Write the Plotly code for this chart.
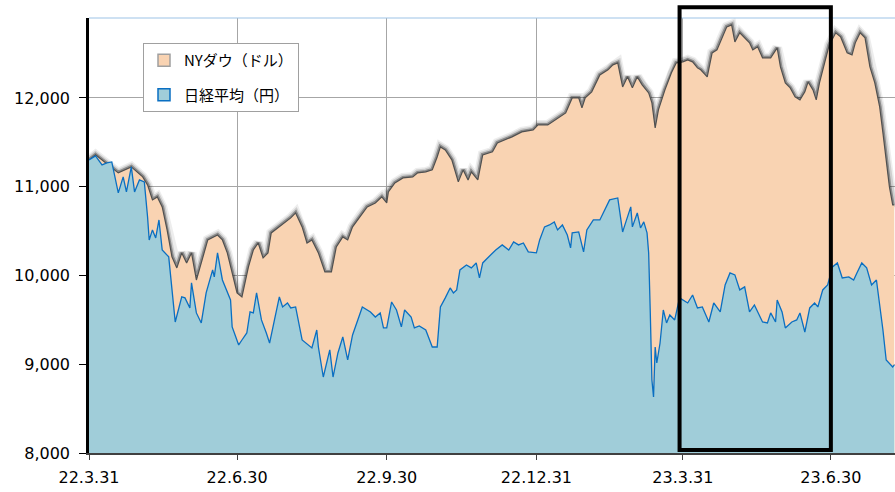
import pandas as pd
import plotly.graph_objects as go

start = pd.Timestamp("2022-03-31")

# Day offsets from 2022-03-31 and values
nikkei_days = [0, 4, 8, 11, 14, 18, 21, 23, 26, 28, 31, 34, 36, 37, 39, 41, 43, 45, 49, 51,
               53, 57, 59, 62, 63, 66, 69, 72, 76, 77, 79, 82, 87, 88, 92, 94, 97, 99, 101, 103,
               106, 109, 111, 114, 117, 119, 122, 124, 127, 131, 135, 137, 140, 141, 144, 148, 150, 153, 156, 159,
               162, 165, 168, 173, 176, 179, 181, 183, 186, 189, 192, 194, 198, 200, 203, 207, 211, 214, 216, 219,
               222, 224, 226, 228, 232, 235, 238, 240, 242, 245, 250, 254, 258, 261, 264, 267, 270, 275, 277, 280,
               283, 286, 288, 291, 294, 296, 297, 301, 304, 306, 310, 314, 317, 320, 325, 328, 329, 333, 334, 337,
               339, 341, 343, 344, 345, 346, 347, 348, 349, 351, 353, 355, 357, 360, 363, 368, 371, 374, 377, 381,
               384, 388, 391, 394, 397, 400, 403, 406, 409, 414, 417, 419, 422, 423, 426, 428, 432, 435, 437, 440,
               443, 446, 448, 451, 454, 457, 460, 463, 467, 470, 472, 475, 478, 481, 484, 486, 488, 490, 494, 495]
nikkei_vals = [11302, 11347, 11245, 11268, 11279, 10930, 11110, 10941, 11223, 10941, 11076, 11054, 10659, 10400, 10513, 10423, 10625, 10287, 10209, 9803,
               9476, 9758, 9747, 9634, 9916, 9578, 9465, 9803, 10062, 9983, 10254, 9949, 9724, 9420, 9217, 9273, 9352, 9589, 9578, 9803,
               9499, 9352, 9239, 9499, 9758, 9645, 9690, 9634, 9645, 9273, 9217, 9183, 9386, 9194, 8856, 9161, 8856, 9127, 9307, 9048,
               9330, 9499, 9645, 9589, 9532, 9578, 9409, 9409, 9701, 9611, 9420, 9611, 9532, 9409, 9431, 9386, 9194, 9194, 9645, 9747,
               9859, 9803, 9837, 10062, 10118, 10085, 10141, 9972, 10141, 10197, 10287, 10344, 10287, 10378, 10344, 10366, 10265, 10254, 10400, 10547,
               10569, 10603, 10513, 10569, 10456, 10310, 10479, 10490, 10265, 10513, 10625, 10625, 10738, 10851, 10873, 10490, 10547, 10772, 10547, 10704,
               10535, 10603, 10479, 10254, 9578, 8823, 8631, 9194, 9014, 9239, 9611, 9465, 9555, 9499, 9747, 9690, 9780, 9634, 9645, 9476,
               9690, 9589, 9893, 10028, 10006, 9837, 9871, 9589, 9668, 9476, 9465, 9578, 9476, 9724, 9589, 9409, 9476, 9499, 9578, 9363,
               9634, 9690, 9645, 9837, 9893, 10096, 10141, 9972, 9983, 9949, 10028, 10141, 10085, 9893, 9949, 9690, 9386, 9048, 8969, 8992]

dow_days = [0, 4, 18, 26, 33, 36, 39, 42, 45, 48, 51, 54, 57, 60, 63, 66, 69, 73, 79, 82,
            85, 88, 91, 94, 98, 101, 104, 107, 110, 112, 116, 119, 124, 127, 131, 134, 137, 141, 145, 149,
            152, 156, 159, 162, 168, 171, 176, 180, 183, 184, 188, 193, 199, 202, 207, 211, 214, 216, 219, 223,
            227, 230, 233, 235, 239, 242, 248, 251, 260, 266, 273, 276, 282, 288, 293, 297, 301, 303, 305, 309,
            314, 319, 322, 325, 328, 331, 334, 337, 340, 344, 346, 348, 350, 354, 358, 361, 365, 368, 371, 374,
            376, 380, 383, 386, 389, 392, 395, 397, 400, 403, 406, 408, 411, 414, 419, 423, 425, 428, 431, 434,
            437, 440, 442, 445, 447, 449, 452, 455, 459, 462, 466, 469, 471, 474, 477, 480, 483, 486, 488, 490,
            492, 494, 495]
dow_vals = [11300, 11358, 11155, 11223, 11110, 11020, 10851, 10885, 10772, 10513, 10209, 10085, 10254, 10141, 10254, 9949, 10141, 10400, 10456, 10400,
            10254, 10028, 9803, 9758, 10096, 10287, 10366, 10197, 10254, 10479, 10535, 10569, 10648, 10704, 10547, 10366, 10400, 10254, 10040, 10040,
            10321, 10434, 10400, 10547, 10704, 10772, 10817, 10885, 10817, 10941, 11042, 11099, 11110, 11155, 11166, 11189, 11335, 11448, 11414, 11302,
            11054, 11189, 11076, 11166, 11076, 11358, 11392, 11493, 11561, 11617, 11640, 11696, 11696, 11775, 11831, 12000, 12000, 11887, 12000, 12068,
            12259, 12316, 12372, 12395, 12124, 12237, 12113, 12237, 12147, 12056, 11944, 11662, 11865, 12090, 12282, 12395, 12406, 12428, 12406, 12338,
            12316, 12237, 12507, 12541, 12676, 12800, 12823, 12631, 12733, 12676, 12620, 12541, 12575, 12451, 12451, 12564, 12349, 12169, 12113, 12011,
            11978, 12068, 12180, 12090, 11978, 12169, 12395, 12597, 12733, 12687, 12507, 12485, 12620, 12733, 12676, 12349, 12169, 11899, 11606, 11302,
            10997, 10794, 10794]

tick_dates = ["2022-03-31", "2022-06-30", "2022-09-30", "2022-12-31", "2023-03-31", "2023-06-30"]
tick_labels = ["22.3.31", "22.6.30", "22.9.30", "22.12.31", "23.3.31", "23.6.30"]
y_ticks = [8000, 9000, 10000, 11000, 12000]
box_start, box_end = "2023-03-29", "2023-06-30"
x_end = "2023-08-08 10:00"
y_range = [8000, 12900]
series_names = ["NYダウ（ドル）", "日経平均（円）"]

nikkei_dates = start + pd.to_timedelta(nikkei_days, unit="D")
dow_dates = start + pd.to_timedelta(dow_days, unit="D")

PEACH, BLUE_FILL, BLUE_LINE = "#F9D3B2", "#A0CDD9", "#0A6FC2"

fig = go.Figure()

# soft dark glow around the NY Dow edge
for w, c in [(10, "rgba(0,0,0,0.07)"), (7, "rgba(0,0,0,0.13)"), (4, "rgba(0,0,0,0.32)")]:
    fig.add_trace(go.Scatter(x=dow_dates, y=dow_vals, mode="lines",
                             line=dict(color=c, width=w), showlegend=False, hoverinfo="skip"))

fig.add_trace(go.Scatter(x=dow_dates, y=dow_vals, mode="lines", fill="tozeroy",
                         fillcolor=PEACH, line=dict(color="#505050", width=1.2),
                         name=series_names[0], showlegend=False))
fig.add_trace(go.Scatter(x=nikkei_dates, y=nikkei_vals, mode="lines", fill="tozeroy",
                         fillcolor=BLUE_FILL, line=dict(color=BLUE_LINE, width=1.3),
                         name=series_names[1], showlegend=False))

# legend entries with square swatches
fig.add_trace(go.Scatter(x=[None], y=[None], mode="markers", name=series_names[0], legendgroup="a",
                         marker=dict(symbol="square", size=12, color=PEACH,
                                     line=dict(color="#A0A0A0", width=1.5))))
fig.add_trace(go.Scatter(x=[None], y=[None], mode="markers", name=series_names[1], legendgroup="b",
                         marker=dict(symbol="square", size=12, color=BLUE_FILL,
                                     line=dict(color=BLUE_LINE, width=1.5))))

fig.add_shape(type="line", xref="paper", yref="paper", x0=0, x1=1, y0=1, y1=1,
              line=dict(color="#9DC3E6", width=1))
fig.add_shape(type="rect", xref="x", yref="paper", x0=box_start, x1=box_end, y0=0.007, y1=1.025,
              line=dict(color="black", width=4))

font = "DejaVu Sans"
fig.update_layout(
    width=895, height=492,
    margin=dict(l=89, r=0, t=18, b=39),
    paper_bgcolor="white", plot_bgcolor="white",
    xaxis=dict(type="date", range=[start, x_end], tickvals=tick_dates, ticktext=tick_labels,
               showgrid=True, gridcolor="#A6A6A6", gridwidth=1, ticks="outside", ticklen=5,
               tickcolor="#404040", showline=True, linecolor="#404040", linewidth=2,
               tickfont=dict(family=font, size=16, color="black"), ticklabelstandoff=4,
               zeroline=False),
    yaxis=dict(range=y_range, tickvals=y_ticks, tickformat=",", showgrid=True,
               gridcolor="#A6A6A6", gridwidth=1, ticks="outside", ticklen=7, tickcolor="black",
               showline=True, linecolor="black", linewidth=2.5,
               tickfont=dict(family=font, size=16, color="black"), ticklabelstandoff=6,
               zeroline=False),
    legend=dict(x=0.067, y=0.9425, xanchor="left", yanchor="top", bgcolor="white",
                bordercolor="#A0A0A0", borderwidth=1, tracegroupgap=12, itemwidth=30,
                font=dict(family="Noto Sans CJK JP", size=15, color="black")),
    showlegend=True,
)

fig.write_html("out.html", config={"displayModeBar": False},
               post_script="document.body.style.margin='0';document.body.style.overflow='hidden';")
